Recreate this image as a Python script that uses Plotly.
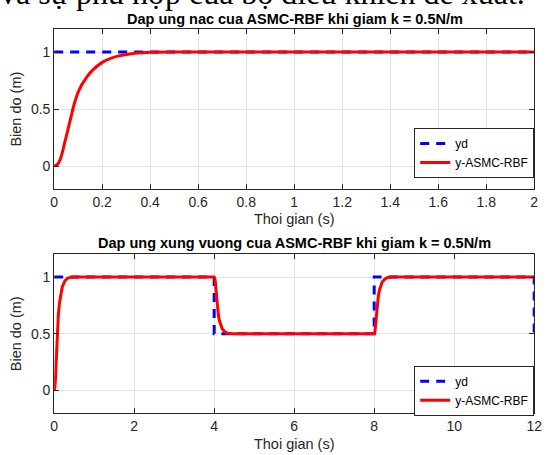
import plotly.graph_objects as go

# ---- data ----
t_step = [0, 0.015, 0.03, 0.043, 0.063, 0.084, 0.104, 0.132, 0.159, 0.2, 0.235, 0.269, 0.337, 0.406, 0.5, 0.7, 1.0, 1.5, 2.0]
y_step = [0, 0.02, 0.09, 0.2, 0.37, 0.55, 0.67, 0.77, 0.84, 0.91, 0.945, 0.967, 0.99, 0.998, 1.0, 1.0, 1.0, 1.0, 1.0]
t_yd_step = [0, 2]
yd_step = [1, 1]

t_sq = [0, 0.015, 0.03, 0.043, 0.063, 0.084, 0.104, 0.132, 0.159, 0.2, 0.269, 0.337, 0.45, 0.6,
        4.0, 4.015, 4.03, 4.043, 4.063, 4.084, 4.104, 4.132, 4.159, 4.2, 4.269, 4.337, 4.45, 4.6,
        8.0, 8.015, 8.03, 8.043, 8.063, 8.084, 8.104, 8.132, 8.159, 8.2, 8.269, 8.337, 8.45, 8.6, 12.0]
y_sq = [0, 0.02, 0.09, 0.2, 0.37, 0.55, 0.67, 0.77, 0.84, 0.91, 0.967, 0.99, 0.999, 1.0,
        1.0, 0.99, 0.955, 0.9, 0.815, 0.725, 0.665, 0.615, 0.58, 0.545, 0.517, 0.505, 0.5, 0.5,
        0.5, 0.51, 0.545, 0.6, 0.685, 0.775, 0.835, 0.885, 0.92, 0.955, 0.983, 0.995, 1.0, 1.0, 1.0]
t_yd_sq = [0, 4, 4, 8, 8, 12, 12]
yd_sq = [1, 1, 0.5, 0.5, 1, 1, 0.5]

x1_ticks = [0, 0.2, 0.4, 0.6, 0.8, 1, 1.2, 1.4, 1.6, 1.8, 2]
x1_labels = ["0", "0.2", "0.4", "0.6", "0.8", "1", "1.2", "1.4", "1.6", "1.8", "2"]
x2_ticks = [0, 2, 4, 6, 8, 10, 12]
x2_labels = ["0", "2", "4", "6", "8", "10", "12"]
y_ticks = [0, 0.5, 1]
y_labels = ["0", "0.5", "1"]

title1 = "Dap ung nac cua ASMC-RBF khi giam k = 0.5N/m"
title2 = "Dap ung xung vuong cua ASMC-RBF khi giam k = 0.5N/m"
header_text = "và sự phù hợp của bộ điều khiển đề xuất."

# ---- figure ----
W, H = 551, 455
BLUE = "#0000FF"
RED = "#FF0000"
AX = "#262626"
GRID = "#e3e3e3"
FONT = "Liberation Sans, Arial, sans-serif"

fig = go.Figure()
fig.add_trace(go.Scatter(x=t_yd_step, y=yd_step, mode="lines", name="yd",
                         line=dict(color=BLUE, width=3, dash="9px,7px"),
                         xaxis="x", yaxis="y", legend="legend"))
fig.add_trace(go.Scatter(x=t_step, y=y_step, mode="lines", name="y-ASMC-RBF",
                         line=dict(color=RED, width=3, shape="spline", smoothing=0.6),
                         xaxis="x", yaxis="y", legend="legend"))
fig.add_trace(go.Scatter(x=t_yd_sq, y=yd_sq, mode="lines", name="yd",
                         line=dict(color=BLUE, width=3, dash="9px,7px"),
                         xaxis="x2", yaxis="y2", legend="legend2"))
fig.add_trace(go.Scatter(x=t_sq, y=y_sq, mode="lines", name="y-ASMC-RBF",
                         line=dict(color=RED, width=3),
                         xaxis="x2", yaxis="y2", legend="legend2"))

xdom = [51.3 / W, 542 / W]
y1dom = [1 - 189 / H, 1 - 29.3 / H]
y2dom = [1 - 413.3 / H, 1 - 254.3 / H]

axis_common = dict(showline=True, linecolor=AX, linewidth=1, mirror="ticks",
                   ticks="inside", ticklen=5, tickcolor=AX, showgrid=True,
                   gridcolor=GRID, gridwidth=1, zeroline=False,
                   tickfont=dict(family=FONT, size=14, color=AX),
                   title_font=dict(family=FONT, size=14.5, color=AX))

legend_common = dict(x=542 / W, xanchor="right", yanchor="bottom",
                     bgcolor="white", bordercolor=AX, borderwidth=1, tracegroupgap=0,
                     font=dict(family=FONT, size=12, color="#000000"))

fig.update_layout(
    width=W, height=H,
    margin=dict(l=0, r=0, t=0, b=0),
    paper_bgcolor="white", plot_bgcolor="white",
    xaxis=dict(domain=xdom, anchor="y", range=[0, 2], tickvals=x1_ticks, ticktext=x1_labels,
               title=dict(text="Thoi gian (s)", standoff=5), **axis_common),
    yaxis=dict(domain=y1dom, anchor="x", range=[-0.2, 1.2], tickvals=y_ticks, ticktext=y_labels,
               title=dict(text="Bien do (m)", standoff=5), **axis_common),
    xaxis2=dict(domain=xdom, anchor="y2", range=[0, 12], tickvals=x2_ticks, ticktext=x2_labels,
                title=dict(text="Thoi gian (s)", standoff=5), **axis_common),
    yaxis2=dict(domain=y2dom, anchor="x2", range=[-0.2, 1.2], tickvals=y_ticks, ticktext=y_labels,
                title=dict(text="Bien do (m)", standoff=5), **axis_common),
    legend=dict(y=1 - 178 / H, **legend_common),
    legend2=dict(y=1 - 415.7 / H, **legend_common),
    showlegend=True,
)

fig.add_annotation(text="<b>" + title1 + "</b>", xref="paper", yref="paper",
                   x=297 / W, y=1 - 19 / H, xanchor="center", yanchor="middle",
                   showarrow=False, font=dict(family=FONT, size=14.5, color="#000000"))
fig.add_annotation(text="<b>" + title2 + "</b>", xref="paper", yref="paper",
                   x=297 / W, y=1 - 243 / H, xanchor="center", yanchor="middle",
                   showarrow=False, font=dict(family=FONT, size=14.5, color="#000000"))
fig.add_annotation(text=header_text, xref="paper", yref="paper",
                   x=-6 / W, y=1 - 13 / H, xanchor="left", yanchor="bottom",
                   showarrow=False, font=dict(family="Liberation Serif, Times New Roman, serif",
                                              size=32, color="#000000"))

fig.write_html("out.html")
